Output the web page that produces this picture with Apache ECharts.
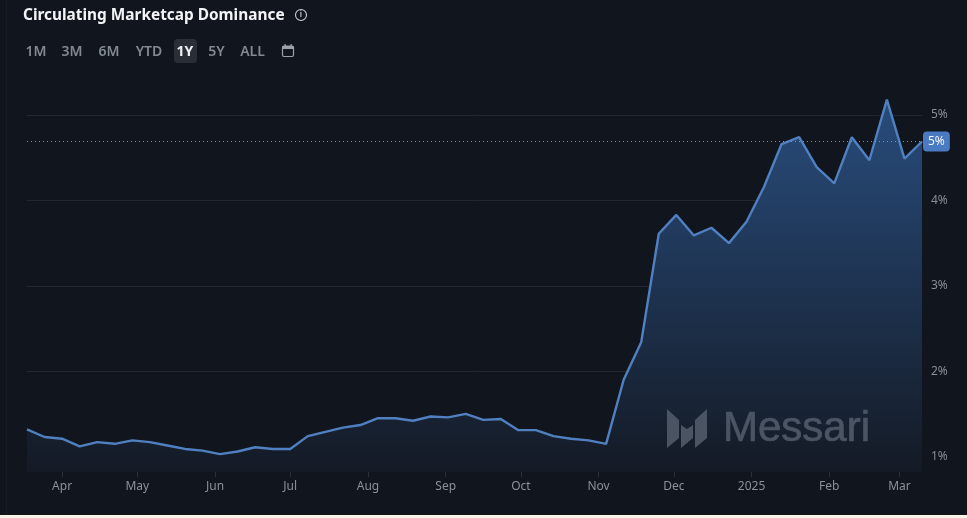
<!DOCTYPE html>
<html>
<head>
<meta charset="utf-8">
<style>
  html, body { margin: 0; padding: 0; background: #11151d; }
  #chart { width: 967px; height: 518px; }
</style>
<script src="https://cdn.jsdelivr.net/npm/echarts@6/dist/echarts.min.js"></script>
</head>
<body>
<div id="chart"></div>
<script>
// Weekly circulating marketcap dominance, in percent
const firstWeek = Date.UTC(2024, 2, 18);
const weekMs = 7 * 24 * 3600 * 1000;
const dominance = [
  1.32, 1.23, 1.21, 1.12, 1.17, 1.15, 1.19, 1.17, 1.13, 1.09, 1.07, 1.03, 1.06,
  1.11, 1.09, 1.09, 1.24, 1.29, 1.34, 1.37, 1.45, 1.45, 1.42, 1.47, 1.46, 1.50,
  1.43, 1.44, 1.31, 1.31, 1.24, 1.21, 1.19, 1.15, 1.90, 2.34, 3.61, 3.83, 3.59,
  3.68, 3.50, 3.75, 4.16, 4.66, 4.74, 4.39, 4.20, 4.74, 4.47, 5.18, 4.49, 4.69
];
const monthTicks = [
  ['2024-04-01', 'Apr'], ['2024-05-01', 'May'], ['2024-06-01', 'Jun'],
  ['2024-07-01', 'Jul'], ['2024-08-01', 'Aug'], ['2024-09-01', 'Sep'],
  ['2024-10-01', 'Oct'], ['2024-11-01', 'Nov'], ['2024-12-01', 'Dec'],
  ['2025-01-01', '2025'], ['2025-02-01', 'Feb'], ['2025-03-01', 'Mar']
];
const percentTicks = [1, 2, 3, 4, 5];
const rangeButtons = [
  ['1M', 36], ['3M', 72], ['6M', 109], ['YTD', 149], ['1Y', 185], ['5Y', 216.5], ['ALL', 252.5]
];
const activeRange = '1Y';

const points = dominance.map((v, i) => [firstWeek + i * weekMs, v]);
const tickMs = monthTicks.map(t => Date.parse(t[0] + 'T00:00:00Z'));
const tickName = {};
monthTicks.forEach((t, i) => { tickName[tickMs[i]] = t[1]; });
const latest = dominance[dominance.length - 1];

const uiText = '"Noto Sans", Inter, sans-serif';
const markText = '"Liberation Sans", Arial, sans-serif';
const markFill = '#4a5463';

// Header controls and the watermark are page furniture around the plot
const furniture = [
  { type: 'rect', silent: true, z: 0, shape: { x: 0, y: 515, width: 967, height: 3 }, style: { fill: '#fdf3e7' } },
  { type: 'rect', silent: true, z: 0, shape: { x: 6, y: 0, width: 1, height: 515 }, style: { fill: '#171c25' } },
  { type: 'text', silent: true, z: 5, x: 23, y: 15.5, style: { text: 'Circulating Marketcap Dominance', fill: '#f2f4f7', font: '700 15.4px ' + uiText, textVerticalAlign: 'middle' } },
  { type: 'circle', silent: true, z: 5, shape: { cx: 301, cy: 15, r: 5.5 }, style: { fill: 'none', stroke: '#c9ced6', lineWidth: 1.1 } },
  { type: 'text', silent: true, z: 5, x: 301, y: 15, style: { text: 'i', fill: '#c9ced6', font: '600 8px ' + uiText, textAlign: 'center', textVerticalAlign: 'middle' } },
  { type: 'rect', silent: true, z: 4, shape: { x: 174, y: 39, width: 23, height: 24, r: 4 }, style: { fill: '#2a2e36' } },
  { type: 'rect', silent: true, z: 5, shape: { x: 282.5, y: 46, width: 11, height: 10.5, r: 1.5 }, style: { fill: 'none', stroke: '#9ca3ad', lineWidth: 1.2 } },
  { type: 'rect', silent: true, z: 5, shape: { x: 282.5, y: 46, width: 11, height: 3 }, style: { fill: '#9ca3ad' } },
  { type: 'rect', silent: true, z: 5, shape: { x: 284.5, y: 44, width: 1.2, height: 2.5 }, style: { fill: '#9ca3ad' } },
  { type: 'rect', silent: true, z: 5, shape: { x: 290.5, y: 44, width: 1.2, height: 2.5 }, style: { fill: '#9ca3ad' } },
  { type: 'polygon', silent: true, z: 6, shape: { points: [[667, 409], [679, 420], [679, 438], [667, 448]] }, style: { fill: markFill } },
  { type: 'polygon', silent: true, z: 6, shape: { points: [[681, 425], [687, 429], [693, 425], [693, 438], [681, 448]] }, style: { fill: markFill } },
  { type: 'polygon', silent: true, z: 6, shape: { points: [[695, 420], [707, 409], [707, 438], [695, 448]] }, style: { fill: markFill } },
  { type: 'text', silent: true, z: 6, x: 723, y: 429, style: { text: 'Messari', fill: markFill, stroke: markFill, lineWidth: 0.7, font: '400 42px ' + markText, textVerticalAlign: 'middle' } }
];
rangeButtons.forEach(([label, cx]) => {
  furniture.push({
    type: 'text', silent: true, z: 5, x: cx, y: 52,
    style: {
      text: label,
      fill: label === activeRange ? '#eef0f3' : '#838992',
      font: (label === activeRange ? '700' : '600') + ' 14px ' + uiText,
      textAlign: 'center', textVerticalAlign: 'middle'
    }
  });
});

const chart = echarts.init(document.getElementById('chart'), null, { renderer: 'canvas' });
chart.setOption({
  animation: false,
  backgroundColor: '#11151d',
  textStyle: { fontFamily: uiText },
  grid: { left: 27, right: 45, top: 90, bottom: 46, containLabel: false },
  xAxis: {
    type: 'value',
    min: firstWeek,
    max: firstWeek + (dominance.length - 1) * weekMs,
    axisLine: { show: false },
    axisTick: { show: true, length: 5, customValues: tickMs, lineStyle: { color: '#2a303a' } },
    axisLabel: {
      customValues: tickMs,
      color: '#8a919c', fontSize: 12, margin: 9,
      formatter: v => tickName[v] || ''
    },
    splitLine: { show: false }
  },
  yAxis: {
    type: 'value',
    position: 'right',
    min: 0.82,
    max: 5.293,
    axisLine: { show: false },
    axisTick: { show: false, customValues: percentTicks },
    axisLabel: {
      customValues: percentTicks,
      color: '#868d97', fontSize: 12, margin: 9, padding: [2, 0, 0, 0],
      formatter: v => v + '%'
    },
    splitLine: { show: true, lineStyle: { color: '#222832', width: 1 } }
  },
  series: [{
    type: 'line',
    data: points,
    showSymbol: false,
    smooth: false,
    lineStyle: { color: '#5080c0', width: 2.4 },
    areaStyle: {
      origin: 'start',
      opacity: 1,
      color: new echarts.graphic.LinearGradient(0, 0, 0, 1, [
        { offset: 0, color: '#284c7c' },
        { offset: 1, color: '#141a25' }
      ])
    },
    markLine: {
      silent: true,
      symbol: 'none',
      animation: false,
      lineStyle: { color: '#6f93c4', type: [1, 3], width: 1 },
      label: {
        show: true,
        position: 'end',
        distance: 1,
        formatter: () => Math.round(latest) + '%',
        color: '#f2f5fa',
        fontSize: 12,
        backgroundColor: '#4a7ac2',
        borderRadius: 4,
        padding: [4, 5, 4, 5]
      },
      data: [{ yAxis: latest }]
    }
  }],
  graphic: { elements: furniture }
});
</script>
</body>
</html>
